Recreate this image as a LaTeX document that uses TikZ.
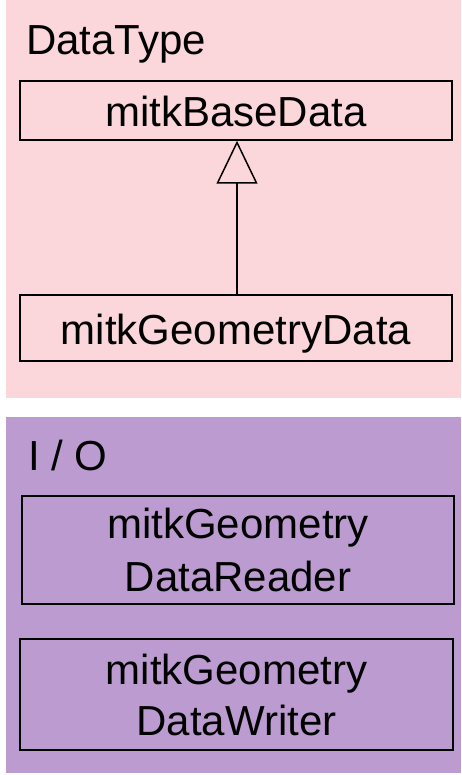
\documentclass[tikz,border=0pt]{standalone}
\usepackage{fontspec}
\setmainfont{Liberation Sans}
\usetikzlibrary{arrows.meta}
\definecolor{pinkbg}{RGB}{251,214,218}
\definecolor{purplebg}{RGB}{187,155,208}
\begin{document}
\begin{tikzpicture}[x=1pt,y=-1pt,
  bigfont/.style={font=\fontsize{42}{51}\selectfont},
  classbox/.style={draw=black, line width=1.5pt, inner sep=0pt, bigfont, align=center},
  onebox/.style={classbox, text height=33pt, text depth=0pt},
  title/.style={anchor=base west, inner sep=0pt, bigfont},
  inherit/.style={line width=1.5pt, -{Triangle[open, length=43pt, width=41pt]}}]
\useasboundingbox[fill=white] (0,0) rectangle (461,775);
\fill[pinkbg] (6,0) rectangle (461,398);
\fill[purplebg] (6,417) rectangle (461,773);
\node[title] (dt) at (26,55) {DataType};
\node[title] (io) at (28,470) {I / O};
\node[onebox, minimum width=432pt, minimum height=59pt] (base) at (236,110.5) {mitkBaseData};
\node[onebox, minimum width=432pt, minimum height=66pt] (geo) at (236,328) {mitkGeometryData};
\node[classbox, minimum width=432pt, minimum height=108pt, font=\fontsize{42}{53}\selectfont] (reader) at (238,550) {mitkGeometry\\DataReader};
\node[classbox, minimum width=433pt, minimum height=111pt] (writer) at (236.5,694.5) {mitkGeometry\\DataWriter};
\draw[inherit] ([xshift=1pt]geo.north) -- ([xshift=1pt]base.south);
\end{tikzpicture}
\end{document}
